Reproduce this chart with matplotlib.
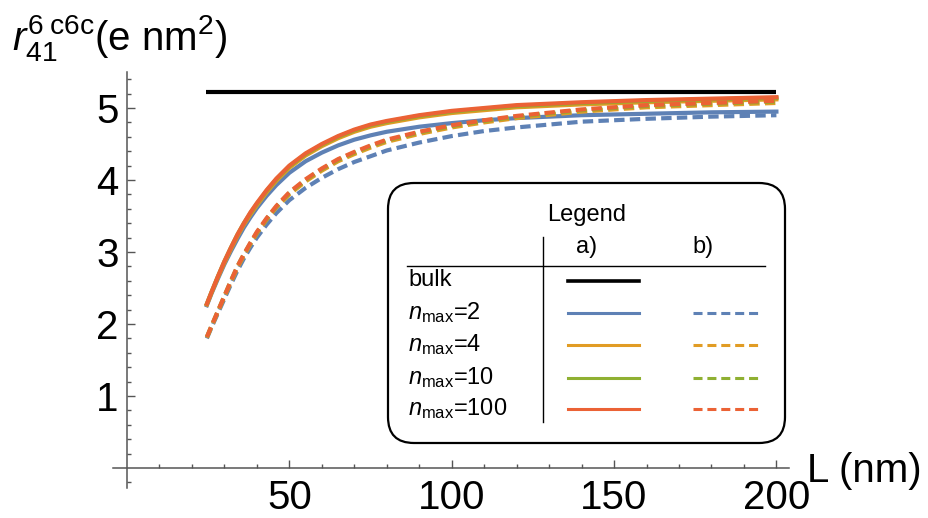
import matplotlib
matplotlib.use('Agg')
import matplotlib.pyplot as plt
from matplotlib.patches import FancyBboxPatch
from matplotlib.lines import Line2D
from matplotlib.ticker import FixedLocator

plt.rcParams['font.family'] = ['Liberation Sans', 'DejaVu Sans']
plt.rcParams['mathtext.fontset'] = 'custom'
plt.rcParams['mathtext.rm'] = 'Liberation Sans'
plt.rcParams['mathtext.it'] = 'Liberation Sans:italic'
plt.rcParams['mathtext.bf'] = 'Liberation Sans:bold'
plt.rcParams['lines.scale_dashes'] = False

# data
L = [24.6, 26, 28, 30, 32, 34, 36, 38, 40, 43, 46, 50, 55, 60, 65, 70, 75, 80, 90, 100, 110, 120, 140, 160, 180, 200]
bulk_L = [24.3, 200]
bulk_val = [5.22, 5.22]

a_n2 = [2.26, 2.42, 2.63, 2.83, 3.01, 3.18, 3.34, 3.48, 3.61, 3.78, 3.93, 4.10, 4.26, 4.38, 4.48, 4.56, 4.62, 4.67, 4.74, 4.79, 4.83, 4.86, 4.90, 4.92, 4.94, 4.95]
a_n4 = [2.27, 2.43, 2.65, 2.85, 3.04, 3.22, 3.38, 3.52, 3.65, 3.83, 3.99, 4.17, 4.34, 4.47, 4.58, 4.67, 4.74, 4.79, 4.87, 4.93, 4.97, 5.01, 5.05, 5.08, 5.10, 5.12]
a_n10 = [2.28, 2.44, 2.66, 2.87, 3.06, 3.24, 3.40, 3.54, 3.67, 3.85, 4.01, 4.19, 4.36, 4.49, 4.60, 4.69, 4.76, 4.81, 4.89, 4.95, 4.99, 5.03, 5.07, 5.10, 5.12, 5.14]
a_n100 = [2.28, 2.44, 2.66, 2.87, 3.06, 3.24, 3.40, 3.55, 3.68, 3.86, 4.02, 4.20, 4.37, 4.50, 4.61, 4.70, 4.77, 4.82, 4.90, 4.96, 5.00, 5.04, 5.08, 5.11, 5.13, 5.15]

b_n2 = [1.80, 1.95, 2.15, 2.35, 2.55, 2.74, 2.91, 3.06, 3.20, 3.38, 3.54, 3.72, 3.89, 4.03, 4.15, 4.25, 4.33, 4.41, 4.52, 4.61, 4.68, 4.73, 4.81, 4.85, 4.88, 4.90]
b_n4 = [1.81, 1.96, 2.17, 2.38, 2.58, 2.78, 2.95, 3.11, 3.26, 3.45, 3.62, 3.80, 3.98, 4.13, 4.26, 4.36, 4.45, 4.53, 4.64, 4.73, 4.80, 4.86, 4.95, 5.01, 5.04, 5.07]
b_n10 = [1.82, 1.97, 2.18, 2.39, 2.60, 2.80, 2.97, 3.12, 3.27, 3.46, 3.63, 3.82, 4.00, 4.15, 4.28, 4.38, 4.47, 4.55, 4.66, 4.75, 4.82, 4.88, 4.97, 5.03, 5.06, 5.09]
b_n100 = [1.82, 1.97, 2.18, 2.39, 2.60, 2.80, 2.97, 3.13, 3.28, 3.47, 3.64, 3.83, 4.01, 4.16, 4.29, 4.39, 4.48, 4.56, 4.67, 4.76, 4.83, 4.89, 4.98, 5.04, 5.07, 5.10]

labels = [r'$n_{\mathrm{max}}$=2', r'$n_{\mathrm{max}}$=4', r'$n_{\mathrm{max}}$=10', r'$n_{\mathrm{max}}$=100']
colors = ['#5E81B5', '#E19C24', '#8FB032', '#EB6235']
series_a = [a_n2, a_n4, a_n10, a_n100]
series_b = [b_n2, b_n4, b_n10, b_n100]

W, H = 929, 518
fig = plt.figure(figsize=(W / 100, H / 100), dpi=100)
ax = fig.add_axes([0, 0, 1, 1])
ax.patch.set_alpha(0)


def px(x, y):
    # pixel (from top-left) -> figure fraction
    return x / W, 1 - y / H


# axis mapping: L=0 at px 127, 3.247 px per unit; y=0 at px 468, 72 px per unit
ax.set_xlim(-127 / 3.247, (W - 127) / 3.247)
ax.set_ylim((468 - H) / 72, 468 / 72)

dash = (0, (7.5, 3.8))
ax.plot(bulk_L, bulk_val, color='black', lw=3.0, solid_capstyle='butt')
for c, ys in zip(colors, series_a):
    ax.plot(L, ys, color=c, lw=3.0)
for c, ys in zip(colors, series_b):
    ax.plot(L, ys, color=c, lw=3.0, linestyle=dash)

axc = '#555555'
for s in ['top', 'right']:
    ax.spines[s].set_visible(False)
ax.spines['left'].set_position(('data', 0))
ax.spines['bottom'].set_position(('data', 0))
ax.spines['left'].set_bounds(-0.28, 5.5)
ax.spines['bottom'].set_bounds(-4.3, 204)
for s in ['left', 'bottom']:
    ax.spines[s].set_color(axc)
    ax.spines[s].set_linewidth(1.1)

ax.xaxis.set_major_locator(FixedLocator([50, 100, 150, 200]))
ax.xaxis.set_minor_locator(FixedLocator([v for v in range(10, 201, 10) if v % 50]))
ax.yaxis.set_major_locator(FixedLocator([1, 2, 3, 4, 5]))
ax.yaxis.set_minor_locator(FixedLocator([round(-0.2 + 0.2 * i, 2) for i in range(29) if round(-0.2 + 0.2 * i, 2) % 1]))
ax.tick_params(which='both', direction='in', color=axc, width=1.0, labelsize=29)
ax.tick_params(which='major', length=5.5)
ax.tick_params(which='minor', length=3)
ax.tick_params(axis='x', pad=8)
ax.tick_params(axis='y', pad=6)

fig.text(*px(807, 482), 'L (nm)', fontsize=29, va='baseline', ha='left')
fig.text(*px(12, 50), r'$r_{41}^{6\;\mathrm{c6c}}$(e nm$^2$)', fontsize=29, va='baseline', ha='left')

# legend box
x0, y0 = px(388, 443)
x1, y1 = px(785, 183)
box = FancyBboxPatch((x0, y0), x1 - x0, y1 - y0, boxstyle='round,pad=0,rounding_size=0.028',
                     transform=fig.transFigure, facecolor='white', edgecolor='black', lw=1.6,
                     mutation_aspect=W / H, zorder=5)
fig.patches.append(box)

fs = 17
fig.text(*px(587, 215), 'Legend', fontsize=fs, ha='center', va='center', zorder=6)
fig.text(*px(587, 247), 'a)', fontsize=fs, ha='center', va='center', zorder=6)
fig.text(*px(703, 247), 'b)', fontsize=fs, ha='center', va='center', zorder=6)
fig.lines.append(Line2D([px(407, 266)[0], px(765, 266)[0]], [px(407, 266)[1]] * 2,
                        transform=fig.transFigure, color='black', lw=1.0, zorder=6))
fig.lines.append(Line2D([px(543, 237)[0]] * 2, [px(543, 237)[1], px(543, 422)[1]],
                        transform=fig.transFigure, color='black', lw=1.0, zorder=6))

rows_y = [313, 345, 378, 409]
fig.text(*px(408, 280), 'bulk', fontsize=fs, ha='left', va='center', zorder=6)
fig.lines.append(Line2D([px(568, 0)[0], px(639, 0)[0]], [px(0, 281)[1]] * 2,
                        transform=fig.transFigure, color='black', lw=2.6, zorder=6))
for lab, c, yy in zip(labels, colors, rows_y):
    fig.text(*px(408, yy), lab, fontsize=fs, ha='left', va='center', zorder=6)
    fig.lines.append(Line2D([px(568, 0)[0], px(639, 0)[0]], [px(0, yy)[1]] * 2,
                            transform=fig.transFigure, color=c, lw=2.2, zorder=6))
    fig.lines.append(Line2D([px(693, 0)[0], px(761, 0)[0]], [px(0, yy)[1]] * 2,
                            transform=fig.transFigure, color=c, lw=2.2, zorder=6,
                            linestyle=(0, (6.5, 3.5))))

fig.savefig('out.png', dpi=100)
